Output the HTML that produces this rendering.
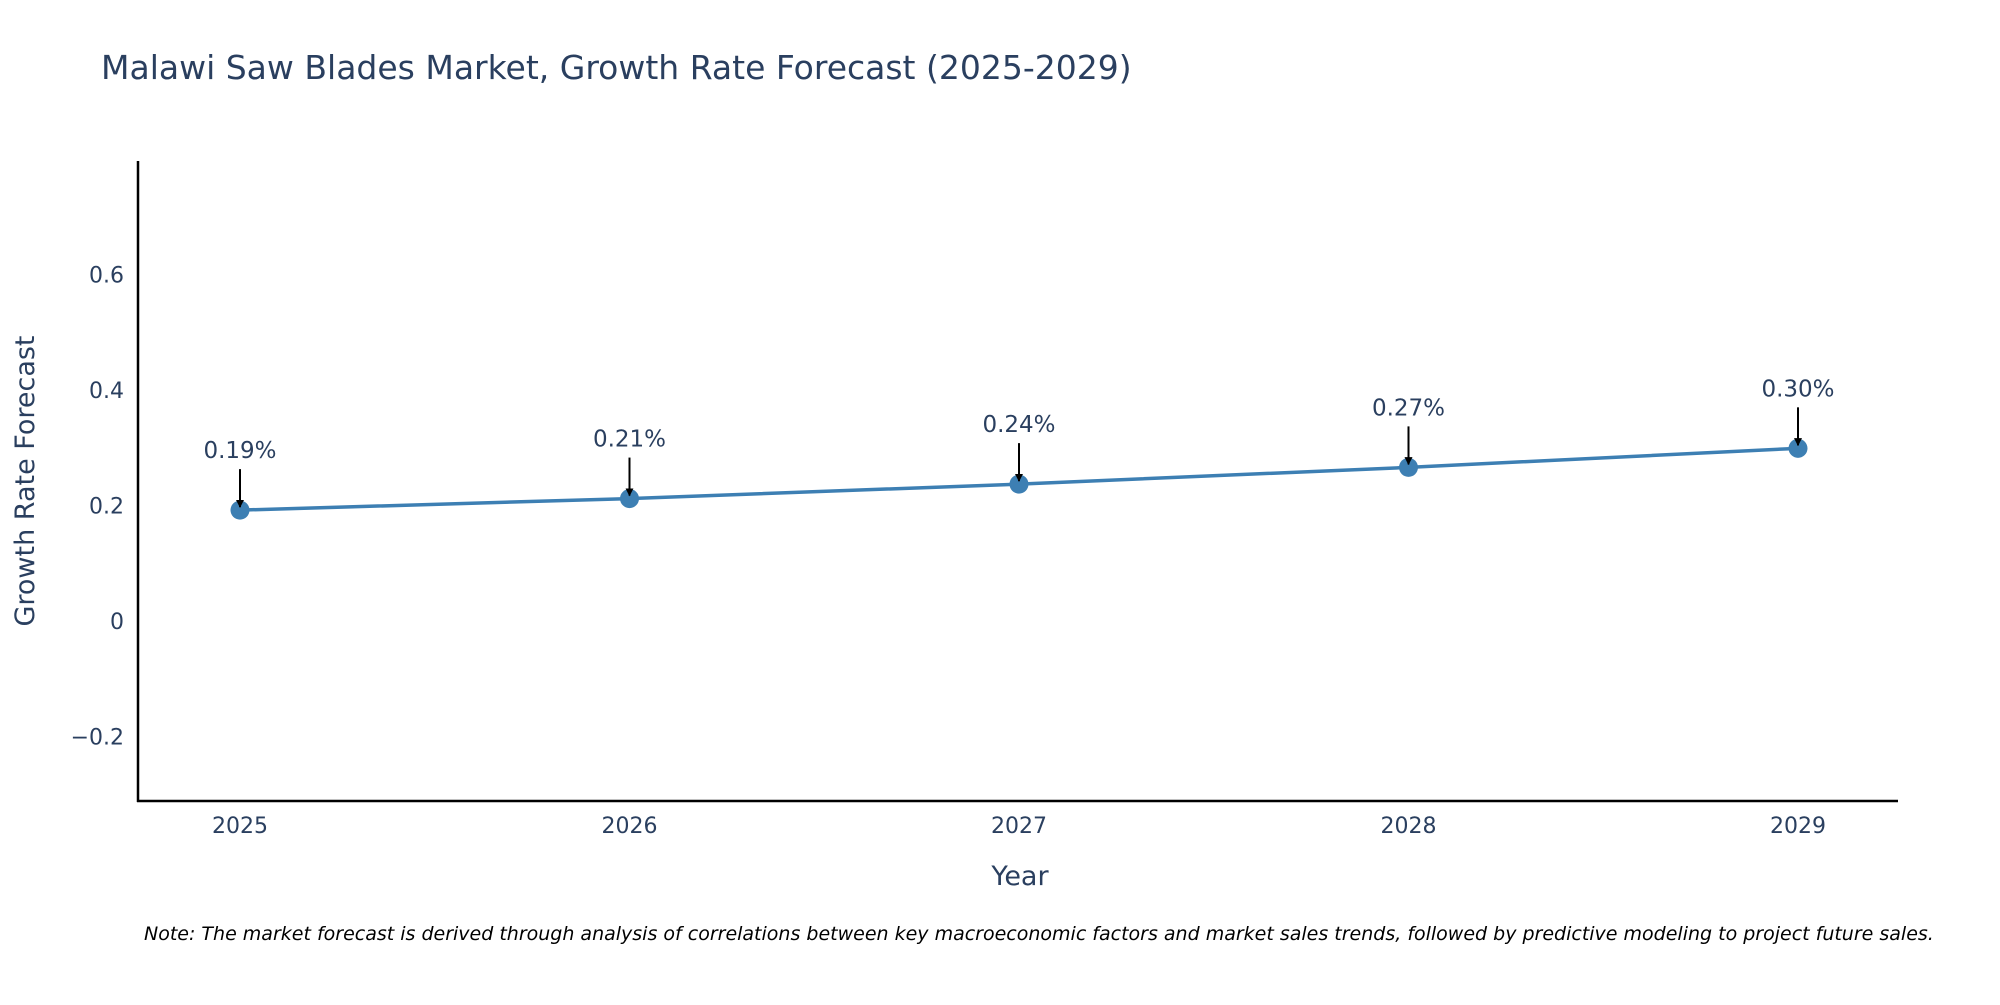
<!DOCTYPE html>
<html><head><meta charset="utf-8"><style>
body{margin:0;background:#fff;width:2000px;height:1000px;overflow:hidden}
svg text{font-family:"DejaVu Sans","Liberation Sans",sans-serif;fill:#2a3f5f}
</style></head><body>
<svg id="chart" width="2000" height="1000" xmlns="http://www.w3.org/2000/svg">
<defs><marker id="ah" viewBox="0 0 10 10" refX="9" refY="5" markerWidth="4" markerHeight="4" markerUnits="strokeWidth" orient="auto"><path d="M0,0L10,5L0,10z" fill="#000"/></marker></defs>
<text x="101" y="79" font-size="33">Malawi Saw Blades Market, Growth Rate Forecast (2025-2029)</text>
<g id="yticks"></g>
<g id="xticks"></g>
<g id="series"></g>
<line x1="138" y1="161" x2="138" y2="802" stroke="#000" stroke-width="2.5"/>
<line x1="137" y1="801" x2="1898" y2="801" stroke="#000" stroke-width="2.5"/>
<text transform="translate(34,481) rotate(-90)" text-anchor="middle" font-size="27">Growth Rate Forecast</text>
<text x="1020" y="885" text-anchor="middle" font-size="27">Year</text>
<text x="144" y="940" font-size="19" font-style="italic" style="fill:#000">Note: The market forecast is derived through analysis of correlations between key macroeconomic factors and market sales trends, followed by predictive modeling to project future sales.</text>
</svg>
<script>
const years=["2025","2026","2027","2028","2029"];
const values=[0.192,0.212,0.237,0.266,0.299];
const labels=["0.19%","0.21%","0.24%","0.27%","0.30%"];
const yTicks=[-0.2,0,0.2,0.4,0.6];
const yTickLabels=["\u22120.2","0","0.2","0.4","0.6"];
const NS="http://www.w3.org/2000/svg";
const x=i=>240+i*389.5;
const y=v=>621-v*577.5;
function mk(t,a,p){const e=document.createElementNS(NS,t);for(const k in a)e.setAttribute(k,a[k]);p.appendChild(e);return e;}
const yt=document.getElementById('yticks'),xt=document.getElementById('xticks'),s=document.getElementById('series');
yTicks.forEach((v,i)=>{const t=mk('text',{x:124,y:y(v)+8,'text-anchor':'end','font-size':22},yt);t.textContent=yTickLabels[i];

});
years.forEach((yr,i)=>{const t=mk('text',{x:x(i),y:833,'text-anchor':'middle','font-size':22},xt);t.textContent=yr;

});
const line=mk('polyline',{points:values.map((v,i)=>x(i)+','+y(v)).join(' '),fill:'none',stroke:'#3d7fb3','stroke-width':3.5},s);


values.forEach((v,i)=>{
const c=mk('circle',{cx:x(i),cy:y(v),r:9.5,fill:'#3d7fb3'},s);


const a=mk('line',{x1:x(i),y1:y(v)-41,x2:x(i),y2:y(v)-3,stroke:'#000','stroke-width':2,'marker-end':'url(#ah)'},s);


const t=mk('text',{x:x(i),y:y(v)-52,'text-anchor':'middle','font-size':23},s);t.textContent=labels[i];


});
</script>
</body></html>
